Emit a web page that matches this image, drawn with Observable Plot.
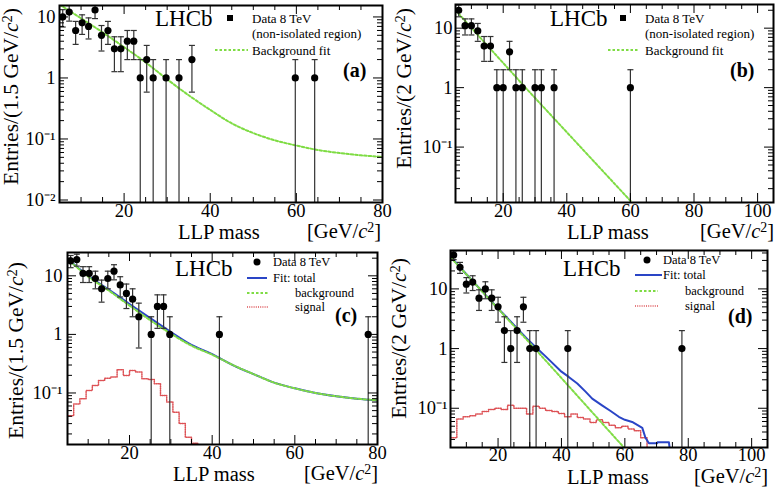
<!DOCTYPE html>
<html><head><meta charset="utf-8">
<script src="https://cdn.jsdelivr.net/npm/d3@7"></script>
<script src="https://cdn.jsdelivr.net/npm/@observablehq/plot@0.6"></script>
<style>
html,body{margin:0;padding:0;background:#fff;}
#wrap{position:relative;width:777px;height:488px;overflow:hidden;font-family:"Liberation Serif","Times New Roman",serif;color:#000;}
#wrap svg.plotsvg{position:absolute;font-family:"Liberation Serif","Times New Roman",serif !important;font-size:18.5px !important;}
#wrap svg.plotsvg text{font-family:"Liberation Serif","Times New Roman",serif !important;}
.t{position:absolute;white-space:nowrap;line-height:1;}
.rot{position:absolute;left:0;top:0;white-space:nowrap;line-height:1;transform-origin:0 0;font-size:21.5px;}
.ttl{font-size:20.5px;}
.lhcb{font-size:23px;}
.leg{font-size:13px;}
.leg2{font-size:12.5px;}
.tag{font-weight:bold;font-size:20px;}
.sup{font-size:0.68em;position:relative;top:-0.42em;}
.sw{position:absolute;overflow:visible;}
</style></head><body><div id="wrap"></div>
<script>
// ---------------- data ----------------
// (a) non-isolated region, 1.5 GeV bins
const aMass   = [5.75,7.25,8.75,10.25,11.75,13.25,14.75,16.25,17.75,19.25,20.75,22.25,23.75,25.25,26.75,29.75,32.75,35.75,59.75,64.25];
const aCounts = [10,12,6,8,7,13,5,6,3,3,4,4,1,2,1,1,1,2,1,1];
const aFitMass  = [5,10,15,20,25,30,35,40,45,50,55,60,65,70,75,80];
const aFitValue = [16,9.5,5.6,3.2,1.8,0.95,0.52,0.30,0.18,0.125,0.095,0.078,0.066,0.059,0.054,0.051];

// (b) non-isolated region, 2 GeV bins
const bMass   = [6,8,10,12,14,16,18,20,22,24,26,30,32,36,60];
const bCounts = [20,11,11,9,5,5,1,1,4,1,1,1,1,1,1];
const bFitMass  = [5,27,60.5];
const bFitValue = [20,1,0.0117];

// (c) 1.5 GeV bins
const cMass   = [5.75,7.25,8.75,10.25,11.75,13.25,14.75,16.25,17.75,19.25,20.75,22.25,25.25,26.75,28.25,29.75,41.75,77.75];
const cCounts = [18,19,11,11,9,6,9,12,7,5,4,2,1,3,3,1,1,1];
const cFitMass   = [5,10,15,20,25,30,35,40,45,50,55,60,65,70,75,80];
const cFitTotal  = [19.6,10,5.8,3.3,1.9,1.1,0.66,0.46,0.30,0.21,0.15,0.12,0.10,0.088,0.080,0.075];
const cFitBkg    = [19.4,9.7,5.6,3.1,1.75,1.03,0.64,0.45,0.30,0.21,0.15,0.12,0.10,0.088,0.080,0.075];
const cSigCenter = [5.75,7.25,8.75,10.25,11.75,13.25,14.75,16.25,17.75,19.25,20.75,22.25,23.75,25.25,26.75,28.25,29.75,31.25,32.75,34.25,35.75];
const cSigValue  = [0.041,0.065,0.080,0.110,0.134,0.164,0.179,0.187,0.249,0.199,0.242,0.227,0.175,0.170,0.144,0.091,0.070,0.047,0.030,0.0176,0.0138];

// (d) 2 GeV bins
const dMass   = [6,8,10,12,14,16,18,20,22,24,26,28,30,32,42,78];
const dCounts = [37,23,12,13,7,10,7,5,2,1,2,5,1,1,1,1];
const dBkgMass  = [5,32,59.7];
const dBkgValue = [34,0.95,0.022];
const dTotMass  = [5,10,15,20,25,30,35,40,42.3,45,47.6,49.7,52.8,55.5,58.1,60,62.3,65.5,66.5,67.6,70.2,70.3,73.9,74.2];
const dTotValue = [35,17.6,9.1,4.7,2.5,1.31,0.74,0.41,0.335,0.26,0.19,0.145,0.112,0.09,0.072,0.064,0.059,0.047,0.032,0.026,0.026,0.027,0.027,0.02];
const dSigCenter = [6,8,10,12,14,16,18,20,22,24,26,28,30,32,34,36,38,40,42,44,46,48,50,52,54,56,58,60,62,64,66];
const dSigValue  = [0.032,0.066,0.072,0.075,0.08,0.088,0.095,0.1,0.095,0.112,0.1,0.1,0.08,0.108,0.1,0.092,0.088,0.082,0.072,0.08,0.07,0.066,0.058,0.064,0.058,0.052,0.047,0.05,0.045,0.042,0.032];

const xTicks15 = [20,40,60,80];
const xTicks2  = [20,40,60,80,100];

// ---------------- helpers ----------------
const GREEN = "#7fdc44", BLUE = "#2a45c6", RED = "#dd5155", ERR = "#333";
const wrap = document.getElementById("wrap");

function points(mass, counts){
  return mass.map((m,i)=>({m, n:counts[i], lo:counts[i]-Math.sqrt(counts[i]), hi:counts[i]+Math.sqrt(counts[i])}));
}
function curve(xs, ys){ return xs.map((x,i)=>({x, y:ys[i]})); }
function steps(centers, values, w){
  const out=[];
  centers.forEach((c,i)=>{ out.push({x:c-w/2,y:values[i]}); out.push({x:c+w/2,y:values[i]}); });
  out.push({x:centers[centers.length-1]+w/2, y:1e-5});
  return out;
}
function decades(dom){
  const maj=[],min=[];
  for(let e=-3;e<=2;e++) for(let k=1;k<10;k++){ const v=+(k*Math.pow(10,e)).toPrecision(6); if(v>=dom[0]&&v<=dom[1]) (k===1?maj:min).push(v); }
  return {maj,min};
}
const SUP = {"0":"⁰","1":"¹","2":"²","3":"³"};
function yFmt(v){ const e=Math.round(Math.log10(v)); if(e===0) return "1"; if(e===1) return "10"; return "10"+(e<0?"⁻":"")+SUP[Math.abs(e)]; }
const capSym = {draw(ctx){ ctx.moveTo(-3,0); ctx.lineTo(3,0); }};
function minors(dom, step, majors){ const o=[]; for(let v=Math.ceil(dom[0]/step)*step; v<=dom[1]; v+=step) if(!majors.includes(v) && v>dom[0] && v<dom[1]) o.push(v); return o; }

function dataMarks(pts, yDom){
  return [
    Plot.ruleX(pts,{x:"m", y1:d=>Math.max(d.lo, yDom[0]*0.3), y2:"hi", stroke:ERR, strokeWidth:1.2, clip:true}),
    Plot.dot(pts,{x:"m", y:"hi", symbol:capSym, r:3, stroke:ERR, strokeWidth:1.2, fill:"none", clip:true}),
    Plot.dot(pts.filter(d=>d.lo>yDom[0]),{x:"m", y:"lo", symbol:capSym, r:3, stroke:ERR, strokeWidth:1.2, fill:"none", clip:true}),
    Plot.dot(pts,{x:"m", y:"n", r:3.6, fill:"#000", stroke:"none"})
  ];
}

function addPanel(c){
  const [mt,mr,mb,ml] = c.m;
  const pw = c.width-ml-mr, ph = c.height-mt-mb;
  const {maj,min} = decades(c.yDomain);
  const xMin = minors(c.xDomain, 5, c.xMajor);
  const tk = {stroke:"#000", strokeWidth:1};
  const svg = Plot.plot({
    width:c.width, height:c.height, marginTop:mt, marginRight:mr, marginBottom:mb, marginLeft:ml,
    x:{domain:c.xDomain, label:null},
    y:{type:"log", domain:c.yDomain, label:null},
    style:{background:"transparent", color:"#000", overflow:"visible"},
    marks:[
      ...c.marks,
      Plot.tickX(xMin,{x:d=>d, insetTop:ph-5, ...tk}),
      Plot.tickX(xMin,{x:d=>d, insetBottom:ph-5, ...tk}),
      Plot.tickX(c.xMajor,{x:d=>d, insetTop:ph-9, ...tk}),
      Plot.tickX(c.xMajor,{x:d=>d, insetBottom:ph-9, ...tk}),
      Plot.tickY(min,{y:d=>d, insetRight:pw-5, ...tk}),
      Plot.tickY(min,{y:d=>d, insetLeft:pw-5, ...tk}),
      Plot.tickY(maj,{y:d=>d, insetRight:pw-9, ...tk}),
      Plot.tickY(maj,{y:d=>d, insetLeft:pw-9, ...tk}),
      Plot.axisX(c.xMajor,{tickSize:0, tickPadding:c.xPad, tickFormat:d=>String(d), label:null}),
      Plot.axisY(maj,{tickSize:0, tickPadding:c.yPad, tickFormat:yFmt, label:null}),
      Plot.frame({stroke:"#000", strokeWidth:2})
    ]
  });
  svg.classList.add("plotsvg");
  svg.style.left = c.left+"px"; svg.style.top = c.top+"px";
  wrap.appendChild(svg);
}

// ---------------- panels ----------------
const aDom=[0.0091,15.4], bDom=[0.0117,25], cDom=[0.0132,25], dDom=[0.022,44];
const dash = {strokeWidth:2, strokeDasharray:"2.5,2"};
const dotted = {strokeWidth:1.5, strokeDasharray:"1,1.2"};

addPanel({left:0, top:0, width:390, height:240, m:[5,8,38,59], xDomain:[5,80], yDomain:aDom, xMajor:xTicks15, xPad:1, yPad:4,
  marks:[
    Plot.line(curve(aFitMass,aFitValue),{x:"x", y:"y", stroke:GREEN, ...dash, curve:"monotone-x", clip:true}),
    ...dataMarks(points(aMass,aCounts), aDom)
  ]});
addPanel({left:390, top:0, width:387, height:240, m:[4,4,38,65], xDomain:[5,105], yDomain:bDom, xMajor:xTicks2, xPad:1, yPad:3,
  marks:[
    Plot.line(curve(bFitMass,bFitValue),{x:"x", y:"y", stroke:GREEN, ...dash, clip:true}),
    ...dataMarks(points(bMass,bCounts), bDom)
  ]});
addPanel({left:0, top:240, width:390, height:248, m:[12,13,44,67], xDomain:[5,80], yDomain:cDom, xMajor:xTicks15, xPad:1, yPad:5,
  marks:[
    Plot.line(steps(cSigCenter,cSigValue,1.5),{x:"x", y:"y", stroke:RED, ...dotted, clip:true}),
    Plot.line(curve(cFitMass,cFitTotal),{x:"x", y:"y", stroke:BLUE, strokeWidth:2, curve:"monotone-x", clip:true}),
    Plot.line(curve(cFitMass,cFitBkg),{x:"x", y:"y", stroke:GREEN, ...dash, curve:"monotone-x", clip:true}),
    ...dataMarks(points(cMass,cCounts), cDom)
  ]});
addPanel({left:390, top:240, width:387, height:248, m:[10,10,41,60], xDomain:[5,105], yDomain:dDom, xMajor:xTicks2, xPad:0, yPad:3,
  marks:[
    Plot.line(steps(dSigCenter,dSigValue,2),{x:"x", y:"y", stroke:RED, ...dotted, clip:true}),
    Plot.line(curve(dTotMass,dTotValue),{x:"x", y:"y", stroke:BLUE, strokeWidth:2, clip:true}),
    Plot.line(curve(dBkgMass,dBkgValue),{x:"x", y:"y", stroke:GREEN, ...dash, clip:true}),
    ...dataMarks(points(dMass,dCounts), dDom)
  ]});

// ---------------- text overlays ----------------
function txt(html, x, cy, cls, align){
  const d=document.createElement("div"); d.className="t "+cls; d.innerHTML=html; wrap.appendChild(d);
  const fs=parseFloat(getComputedStyle(d).fontSize);
  d.style.top=(cy-fs*0.5)+"px";
  if(align==="right"){ d.style.left=(x-d.offsetWidth)+"px"; } else d.style.left=x+"px";
}
function ytitle(html, x, yTop){
  const d=document.createElement("div"); d.className="rot"; d.innerHTML=html; wrap.appendChild(d);
  d.style.transform=`translate(${x}px,${yTop}px) rotate(-90deg) translate(-100%,0)`;
}
function swatch(x1,x2,y,kind){
  const ns="http://www.w3.org/2000/svg";
  const s=document.createElementNS(ns,"svg"); s.setAttribute("class","sw"); s.setAttribute("width",x2-x1+8); s.setAttribute("height",12);
  s.style.left=(x1-4)+"px"; s.style.top=(y-6)+"px";
  const el=document.createElementNS(ns, kind==="square"||kind==="circle" ? (kind==="square"?"rect":"circle") : "line");
  if(kind==="square"){ el.setAttribute("x",4+(x2-x1)/2-3); el.setAttribute("y",3); el.setAttribute("width",6); el.setAttribute("height",6); el.setAttribute("fill","#000"); }
  else if(kind==="circle"){ el.setAttribute("cx",4+(x2-x1)/2); el.setAttribute("cy",6); el.setAttribute("r",3.5); el.setAttribute("fill","#000"); }
  else {
    el.setAttribute("x1",4); el.setAttribute("x2",4+x2-x1); el.setAttribute("y1",6); el.setAttribute("y2",6);
    if(kind==="green"){ el.setAttribute("stroke",GREEN); el.setAttribute("stroke-width",2); el.setAttribute("stroke-dasharray","2.5,2"); }
    if(kind==="blue"){ el.setAttribute("stroke",BLUE); el.setAttribute("stroke-width",2); }
    if(kind==="red"){ el.setAttribute("stroke",RED); el.setAttribute("stroke-width",1.5); el.setAttribute("stroke-dasharray","1,1.2"); }
  }
  s.appendChild(el); wrap.appendChild(s);
}
const GeV = "[GeV/<i>c</i><span class='sup'>2</span>]";
const yT15 = "Entries/(1.5 GeV/<i>c</i><span class='sup'>2</span>)";
const yT2  = "Entries/(2 GeV/<i>c</i><span class='sup'>2</span>)";

// (a)
txt("LHCb",155,18,"lhcb"); swatch(227,233,18,"square");
txt("Data 8 TeV",252,18,"leg"); txt("(non-isolated region)",252,33,"leg");
swatch(215,248,50,"green"); txt("Background fit",252,50,"leg");
txt("(a)",343,70,"tag");
txt("LLP mass",178,232,"ttl"); txt(GeV,381,231,"ttl","right");
ytitle(yT15,1,8);
// (b)
txt("LHCb",550,18,"lhcb"); swatch(620,626,18,"square");
txt("Data 8 TeV",645,18,"leg"); txt("(non-isolated region)",645,33,"leg");
swatch(608,638,50,"green"); txt("Background fit",645,50,"leg");
txt("(b)",730,70,"tag");
txt("LLP mass",567,232,"ttl"); txt(GeV,774,231,"ttl","right");
ytitle(yT2,394,8);
// (c)
txt("LHCb",175,268,"lhcb"); swatch(254,260,262,"circle");
txt("Data 8 TeV",273,262,"leg2");
swatch(247,267,278,"blue"); txt("Fit: total",273,278,"leg2");
swatch(247,268,293,"green"); txt("background",295,293,"leg2");
swatch(247,268,307,"red"); txt("signal",295,307,"leg2");
txt("(c)",335,315,"tag");
txt("LLP mass",173,474,"ttl"); txt(GeV,378,473,"ttl","right");
ytitle(yT15,6,262);
// (d)
txt("LHCb",563,268,"lhcb"); swatch(644,650,260,"circle");
txt("Data 8 TeV",663,260,"leg2");
swatch(635,662,275,"blue"); txt("Fit: total",663,275,"leg2");
swatch(635,658,291,"green"); txt("background",685,291,"leg2");
swatch(635,658,306,"red"); txt("signal",685,306,"leg2");
txt("(d)",728,316,"tag");
txt("LLP mass",567,477,"ttl"); txt(GeV,768,476,"ttl","right");
ytitle(yT2,389,258);
</script></body></html>
